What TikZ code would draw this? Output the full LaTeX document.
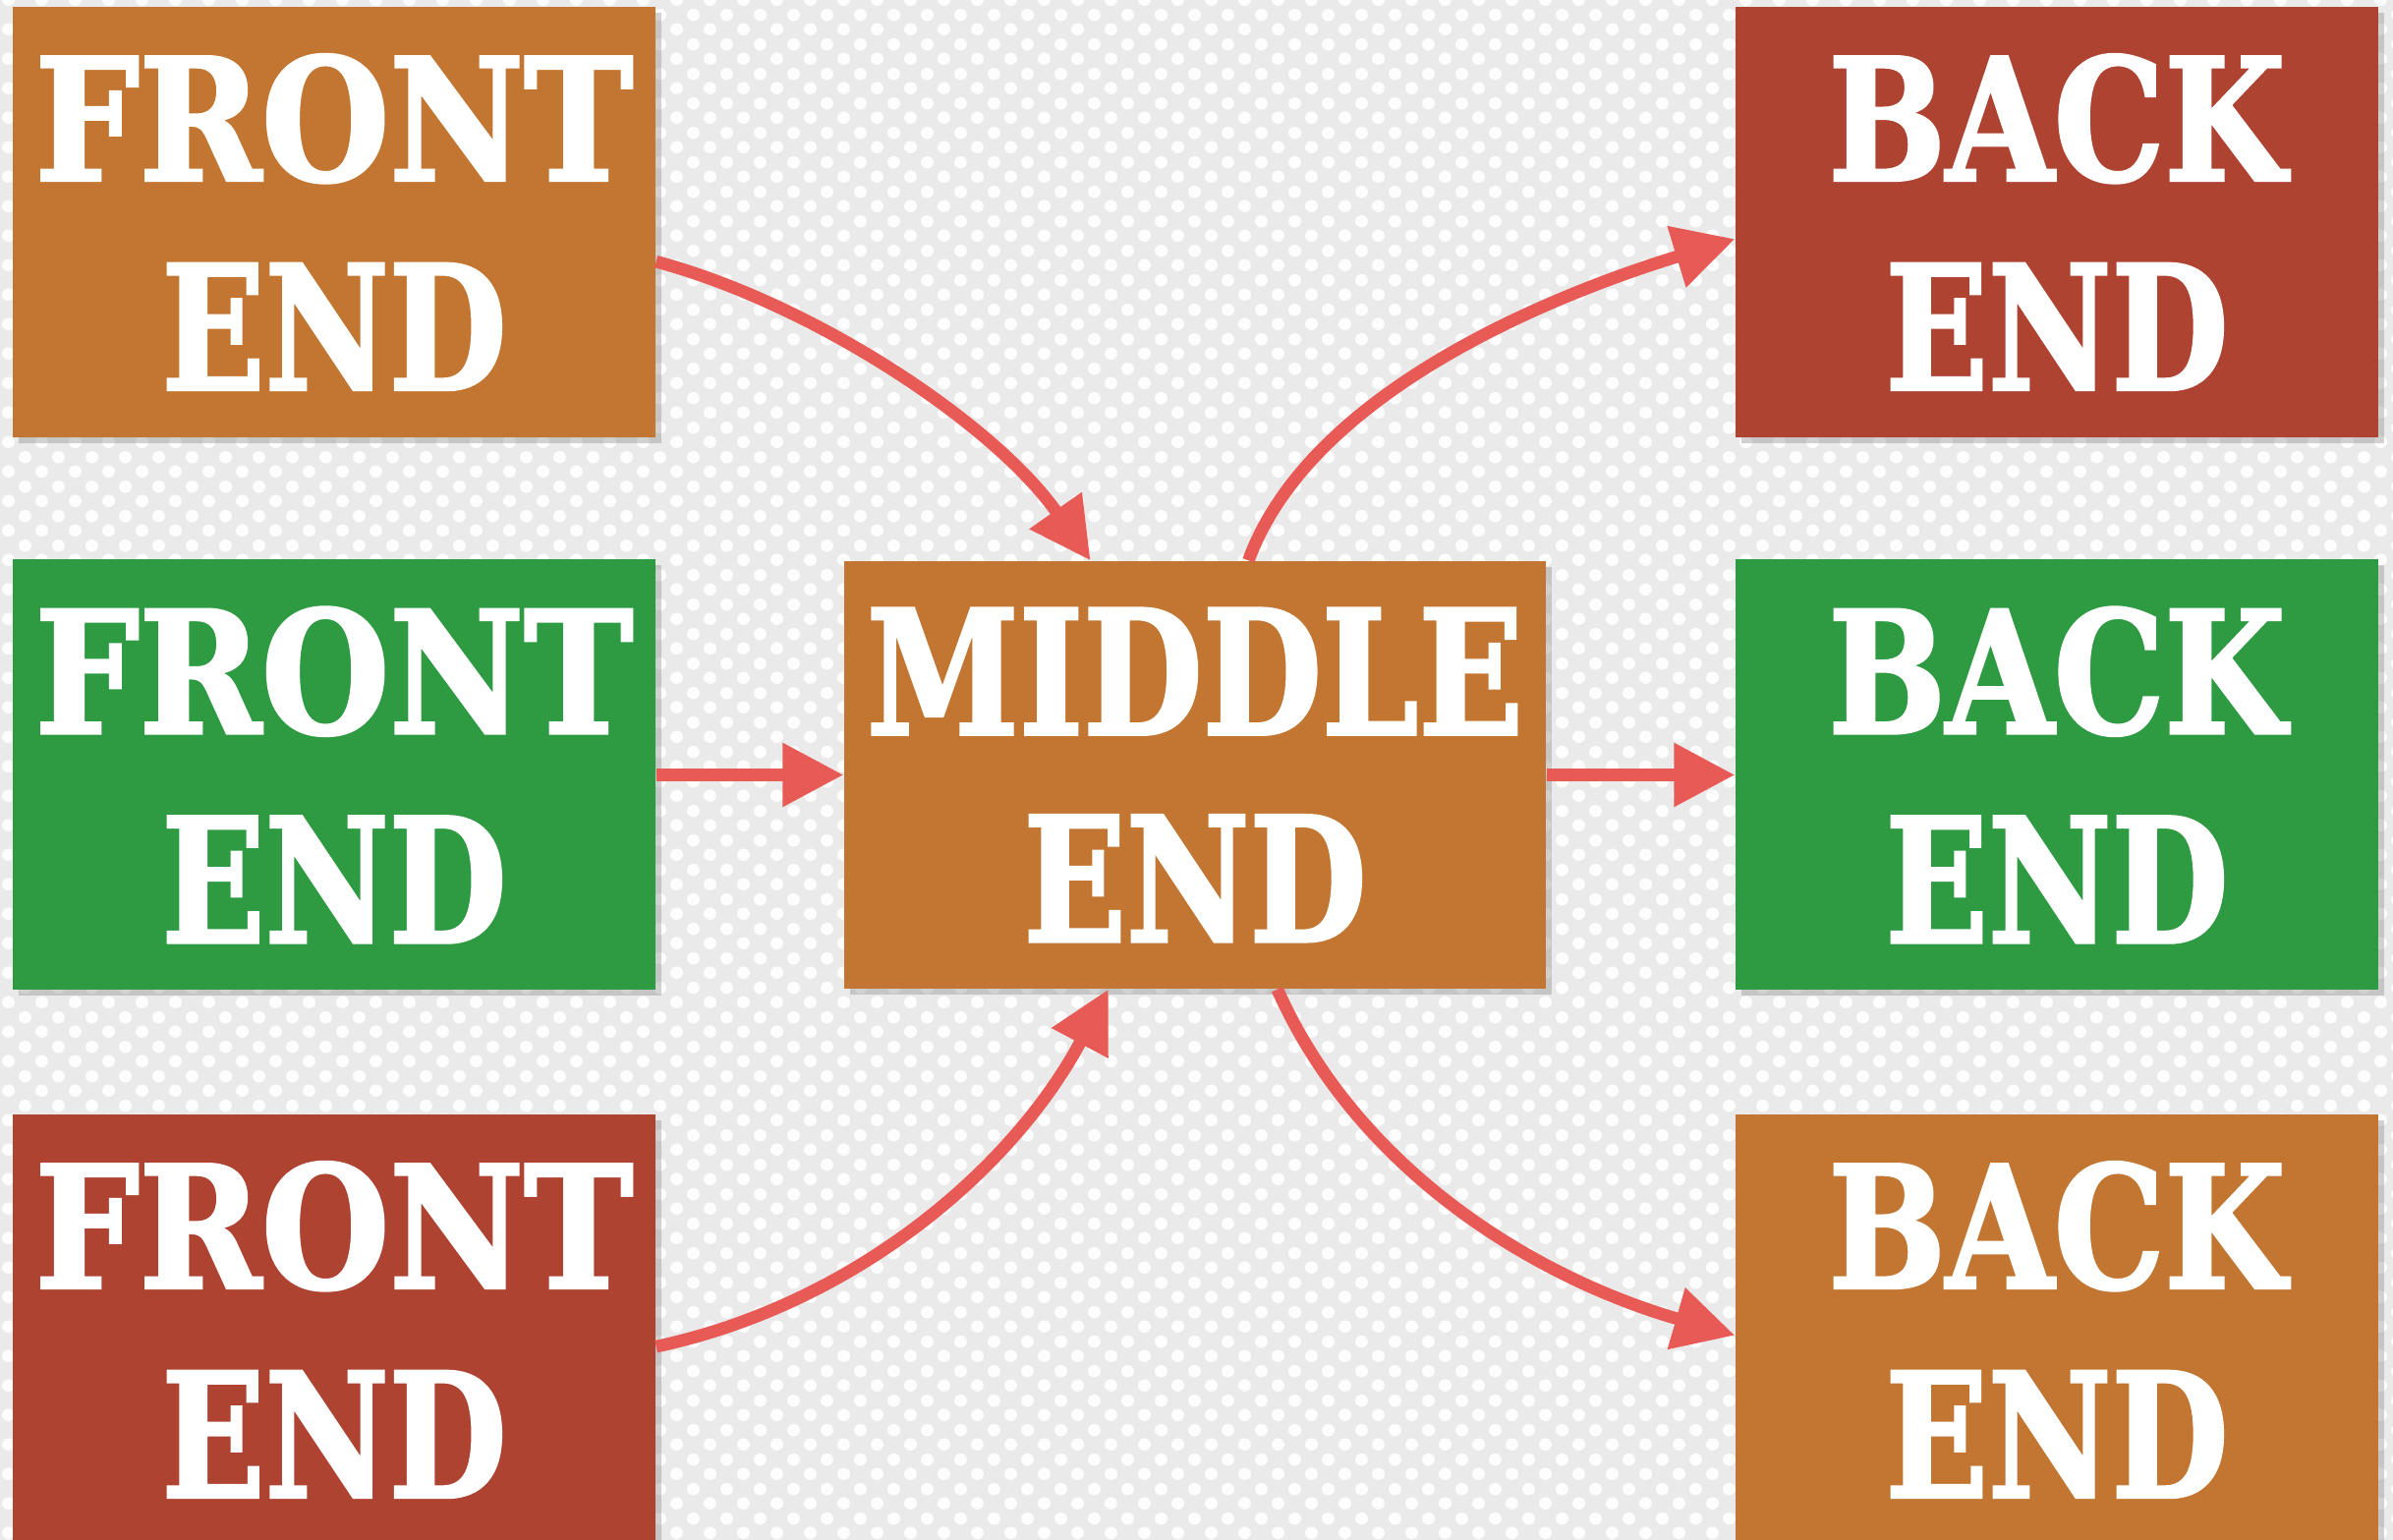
\documentclass[tikz,border=0pt]{standalone}
\usepackage{fontspec}
\usepackage{graphicx}
\usetikzlibrary{arrows.meta,shadows,patterns.meta}
\newfontfamily\stencilfont{DejaVu Serif}[BoldFeatures={FakeBold=2}]
\definecolor{orangebox}{HTML}{C27631}
\definecolor{greenbox}{HTML}{2E9B42}
\definecolor{redbox}{HTML}{AE4331}
\definecolor{chalk}{HTML}{E85A55}
\definecolor{bggray}{HTML}{EAEAEA}
\newcommand{\stencil}[2]{\resizebox{#1}{1.28cm}{\stencilfont\bfseries #2}}
\tikzdeclarepattern{name=bgdots,type=uncolored,
  bounding box={(0,0) and (0.34cm,0.30cm)},tile size={(0.34cm,0.30cm)},
  code={\fill (0.085cm,0.075cm) circle (0.065cm); \fill (0.255cm,0.225cm) circle (0.065cm);}}
\tikzset{
  endbox/.style={rectangle,fill=#1,text=white,minimum width=6.54cm,minimum height=4.38cm,
    inner sep=0pt,align=center,drop shadow={opacity=0.35,shadow xshift=0.06cm,shadow yshift=-0.06cm}},
  flow/.style={draw=chalk,line width=3.6pt,-{Triangle[length=0.62cm,width=0.62cm]}}
}
\begin{document}
\begin{tikzpicture}
  \fill[bggray] (0,0) rectangle (24.35,15.67);
  \fill[pattern=bgdots,pattern color=white!92!bggray] (0,0) rectangle (24.35,15.67);
  \useasboundingbox (0,0) rectangle (24.35,15.67);
  % front ends
  \node[endbox=orangebox] (fe1) at (3.40,13.41) {\stencil{6.09cm}{FRONT}\\[0.79cm]\stencil{3.51cm}{END}};
  \node[endbox=greenbox] (fe2) at (3.40,7.785) {\stencil{6.09cm}{FRONT}\\[0.79cm]\stencil{3.51cm}{END}};
  \node[endbox=redbox] (fe3) at (3.40,2.14) {\stencil{6.09cm}{FRONT}\\[0.79cm]\stencil{3.51cm}{END}};
  % middle end
  \node[endbox=orangebox,minimum width=7.14cm,minimum height=4.35cm] (me) at (12.16,7.785)
    {\stencil{6.68cm}{MIDDLE}\\[0.79cm]\stencil{3.49cm}{END}};
  % back ends
  \node[endbox=redbox] (be1) at (20.93,13.41) {\stencil{4.65cm}{BACK}\\[0.79cm]\stencil{3.49cm}{END}};
  \node[endbox=greenbox] (be2) at (20.93,7.785) {\stencil{4.65cm}{BACK}\\[0.79cm]\stencil{3.49cm}{END}};
  \node[endbox=orangebox] (be3) at (20.93,2.14) {\stencil{4.65cm}{BACK}\\[0.79cm]\stencil{3.49cm}{END}};
  % arrows
  \draw[flow] (fe1.-7) to[out=-15,in=125,looseness=0.8] (me.116);
  \draw[flow] (fe2.east) -- (me.west);
  \draw[flow] (fe3.-3) to[out=12,in=-118,looseness=0.9] (me.248);
  \draw[flow] (me.76) to[out=70,in=-163,looseness=0.8] (be1.183);
  \draw[flow] (me.east) -- (be2.west);
  \draw[flow] (me.-69) to[out=-66,in=164,looseness=0.9] (be3.181);
\end{tikzpicture}
\end{document}
